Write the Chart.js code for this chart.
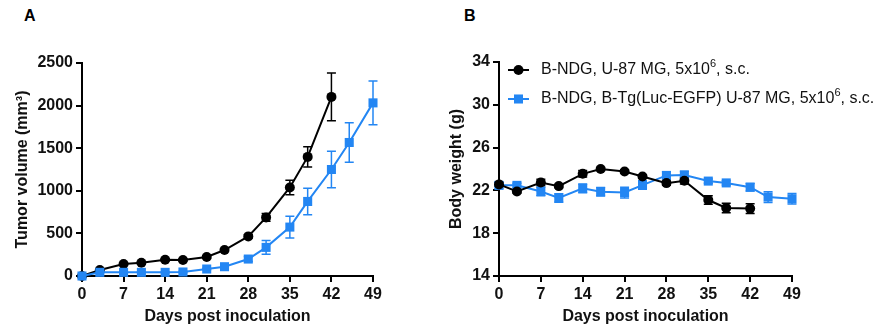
<!DOCTYPE html>
<html>
<head>
<meta charset="utf-8">
<script src="https://cdn.jsdelivr.net/npm/chart.js@4"></script>
<style>
  body { margin: 0; background: #fff; width: 887px; height: 335px; position: relative; overflow: hidden;
         font-family: 'Liberation Sans', Arial, sans-serif; }
  canvas { position: absolute; top: 0; }
  #chartA { left: 0; }
  #chartB { left: 430px; }
  .panel { position: absolute; font-weight: bold; font-size: 16px; color: #000; }
</style>
</head>
<body>
<div class="panel" style="left:24px;top:7px">A</div>
<div class="panel" style="left:464px;top:7px">B</div>
<canvas id="chartA" width="430" height="335"></canvas>
<canvas id="chartB" width="457" height="335"></canvas>
<script>
// ---------- data ----------
const daysBlack = [0, 3, 7, 10, 14, 17, 21, 24, 28, 31, 35, 38, 42];
const daysBlue = [0, 3, 7, 10, 14, 17, 21, 24, 28, 31, 35, 38, 42, 45, 49];

const volumeBlack = [0, 70, 140, 156, 191, 188, 223, 305, 465, 688, 1039, 1398, 2102];
const volumeBlackErr = [0, 10, 12, 10, 12, 12, 15, 15, 20, 45, 85, 120, 280];
const volumeBlue = [0, 43, 43, 43, 43, 47, 82, 109, 199, 336, 574, 875, 1250, 1567, 2032];
const volumeBlueErr = [0, 5, 5, 5, 5, 8, 10, 15, 30, 80, 127, 155, 215, 232, 258];

const weightBlack = [22.56, 21.9, 22.74, 22.4, 23.55, 24.0, 23.77, 23.3, 22.68, 22.9, 21.1, 20.36, 20.3];
const weightBlackErr = [0.2, 0.15, 0.3, 0.15, 0.3, 0.15, 0.15, 0.15, 0.2, 0.3, 0.4, 0.45, 0.45];
const weightBlue = [22.47, 22.47, 21.9, 21.29, 22.19, 21.88, 21.8, 22.5, 23.4, 23.43, 22.87, 22.7, 22.3, 21.38, 21.22];
const weightBlueErr = [0.3, 0.2, 0.4, 0.4, 0.4, 0.4, 0.5, 0.4, 0.35, 0.35, 0.2, 0.2, 0.35, 0.5, 0.5];

const legendLabels = [
  ['B-NDG, U-87 MG, 5x10', '6', ', s.c.'],
  ['B-NDG, B-Tg(Luc-EGFP) U-87 MG, 5x10', '6', ', s.c.'],
];

const BLACK = '#000';
const BLUE = '#2386f3';
const FONT = "'Liberation Sans', Arial, sans-serif";

const pts = (xs, ys) => xs.map((x, i) => ({x, y: ys[i]}));

// ---------- plugins ----------
const errorBars = {
  id: 'errorBars',
  beforeDatasetsDraw(chart) {
    const {ctx} = chart;
    const ys = chart.scales.y;
    chart.data.datasets.forEach((ds, i) => {
      if (!ds.errors) return;
      const meta = chart.getDatasetMeta(i);
      ctx.save();
      ctx.strokeStyle = ds.errColor || ds.borderColor;
      ctx.lineWidth = 1.5;
      meta.data.forEach((el, j) => {
        const e = ds.errors[j];
        if (!e) return;
        const v = ds.data[j].y;
        const t = ys.getPixelForValue(v + e);
        const b = ys.getPixelForValue(v - e);
        const x = el.x;
        ctx.beginPath();
        ctx.moveTo(x, t); ctx.lineTo(x, b);
        ctx.moveTo(x - 4.5, t); ctx.lineTo(x + 4.5, t);
        ctx.moveTo(x - 4.5, b); ctx.lineTo(x + 4.5, b);
        ctx.stroke();
      });
      ctx.restore();
    });
  },
};

const insideLegend = {
  id: 'insideLegend',
  afterDraw(chart) {
    const {ctx, chartArea} = chart;
    chart.data.datasets.forEach((ds, i) => {
      const y = chartArea.top + 8 + i * 29;
      const x0 = chartArea.left + 9;
      ctx.save();
      ctx.strokeStyle = ds.borderColor;
      ctx.lineWidth = 2;
      ctx.beginPath();
      ctx.moveTo(x0, y); ctx.lineTo(x0 + 21, y);
      ctx.stroke();
      ctx.fillStyle = ds.backgroundColor;
      Chart.helpers.drawPoint(ctx, {pointStyle: ds.pointStyle, radius: ds.pointRadius, rotation: 0}, x0 + 10.5, y);
      const [a, sup, b] = legendLabels[i];
      let tx = chartArea.left + 42;
      ctx.fillStyle = '#111';
      ctx.textBaseline = 'middle';
      ctx.font = `16px ${FONT}`;
      ctx.fillText(a, tx, y);
      tx += ctx.measureText(a).width;
      ctx.font = `11px ${FONT}`;
      ctx.fillText(sup, tx, y - 6);
      tx += ctx.measureText(sup).width;
      ctx.font = `16px ${FONT}`;
      ctx.fillText(b, tx, y);
      ctx.restore();
    });
  },
};

// ---------- shared options ----------
function axisOptions({min, max, step, title, titlePad, fitWidth, fitHeight}) {
  return {
    type: 'linear',
    min, max,
    border: {display: true, color: BLACK, width: 2},
    grid: {display: true, drawOnChartArea: false, drawTicks: true, tickLength: 6, color: BLACK, lineWidth: 2},
    ticks: {
      stepSize: step, color: '#111', padding: 3, maxRotation: 0,
      font: {family: FONT, size: 16, weight: 'bold'},
      callback: (v) => String(v),
    },
    title: {display: true, text: title, color: '#111', font: {family: FONT, size: 16, weight: 'bold'}, padding: titlePad},
    afterFit(scale) {
      if (fitWidth != null) scale.width = fitWidth;
      if (fitHeight != null) scale.height = fitHeight;
    },
  };
}

function lineDs(label, xs, ys, errs, color, style, radius, order) {
  return {
    label,
    data: pts(xs, ys),
    errors: errs,
    borderColor: color,
    backgroundColor: color,
    borderWidth: 2,
    pointStyle: style,
    pointRadius: radius,
    pointBorderWidth: 0,
    pointHoverRadius: radius,
    clip: false,
    order,
  };
}

Chart.defaults.animation = false;
Chart.defaults.responsive = false;

// ---------- chart A: tumor volume ----------
new Chart(document.getElementById('chartA'), {
  type: 'line',
  data: {
    datasets: [
      lineDs('B-NDG, U-87 MG', daysBlack, volumeBlack, volumeBlackErr, BLACK, 'circle', 5, 1),
      lineDs('B-NDG, B-Tg(Luc-EGFP) U-87 MG', daysBlue, volumeBlue, volumeBlueErr, BLUE, 'rect', 6.4, 0),
    ],
  },
  options: {
    layout: {padding: {left: 0, right: 57, top: 63, bottom: 0}},
    plugins: {legend: {display: false}, tooltip: {enabled: false}},
    scales: {
      x: axisOptions({min: 0, max: 49, step: 7, title: 'Days post inoculation', titlePad: {top: 0, bottom: 9}, fitHeight: 59}),
      y: axisOptions({min: 0, max: 2500, step: 500, title: 'Tumor volume (mm³)', titlePad: {top: 13, bottom: 0}, fitWidth: 82}),
    },
  },
  plugins: [errorBars],
});

// ---------- chart B: body weight ----------
new Chart(document.getElementById('chartB'), {
  type: 'line',
  data: {
    datasets: [
      lineDs('B-NDG, U-87 MG', daysBlack, weightBlack, weightBlackErr, BLACK, 'circle', 5, 0),
      lineDs('B-NDG, B-Tg(Luc-EGFP) U-87 MG', daysBlue, weightBlue, weightBlueErr, BLUE, 'rect', 6.4, 1),
    ],
  },
  options: {
    layout: {padding: {left: 0, right: 95, top: 62, bottom: 0}},
    plugins: {legend: {display: false}, tooltip: {enabled: false}},
    scales: {
      x: axisOptions({min: 0, max: 49, step: 7, title: 'Days post inoculation', titlePad: {top: 0, bottom: 9}, fitHeight: 59}),
      y: axisOptions({min: 14, max: 34, step: 4, title: 'Body weight (g)', titlePad: {top: 17, bottom: 0}, fitWidth: 69}),
    },
  },
  plugins: [errorBars, insideLegend],
});
</script>
</body>
</html>
